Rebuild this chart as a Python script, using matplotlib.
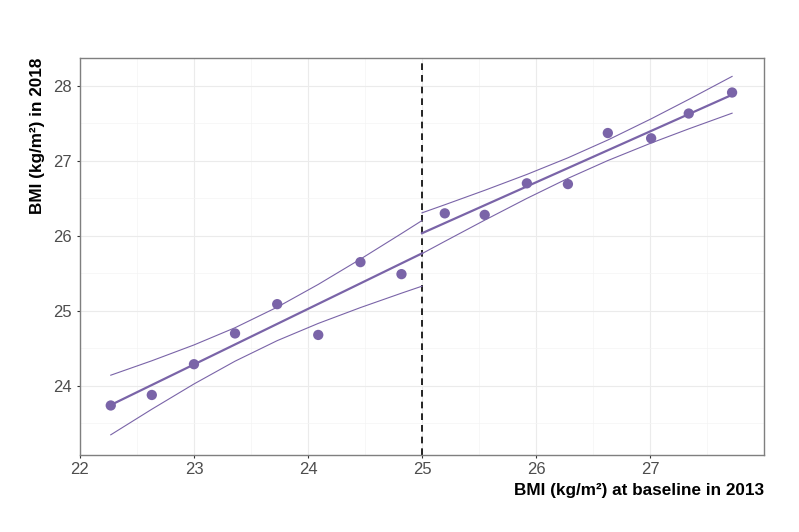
import numpy as np
import matplotlib
matplotlib.use("Agg")
import matplotlib.pyplot as plt
from matplotlib.ticker import MultipleLocator

plt.rcParams['font.family'] = ['Liberation Sans', 'DejaVu Sans']

# Binned data: BMI at baseline (2013) vs BMI in 2018
bmi_2013 = [22.27, 22.63, 23.00, 23.36, 23.73, 24.09, 24.46, 24.82,
            25.20, 25.55, 25.92, 26.28, 26.63, 27.01, 27.34, 27.72]
bmi_2018 = [23.74, 23.88, 24.29, 24.70, 25.09, 24.68, 25.65, 25.49,
            26.30, 26.28, 26.70, 26.69, 27.37, 27.30, 27.63, 27.91]
cutoff = 25.0
x_ticks = [22, 23, 24, 25, 26, 27]
y_ticks = [24, 25, 26, 27, 28]

color = '#7a64a8'

fig = plt.figure(figsize=(7.99, 5.32), dpi=100)
ax = fig.add_axes([0.1001, 0.1447, 0.8561, 0.7463])

x = np.array(bmi_2013)
y = np.array(bmi_2018)


def fit_segment(xs, ys, x_end=None):
    n = len(xs)
    X = np.column_stack([np.ones(n), xs])
    beta, *_ = np.linalg.lstsq(X, ys, rcond=None)
    resid = ys - X @ beta
    s2 = resid @ resid / (n - 2)
    cov = s2 * np.linalg.inv(X.T @ X)
    xg = np.array(sorted(list(xs) + ([x_end] if x_end is not None else [])))
    Xg = np.column_stack([np.ones(len(xg)), xg])
    pred = Xg @ beta
    se = np.sqrt(np.einsum('ij,jk,ik->i', Xg, cov, Xg))
    t = 2.447 if n == 8 else 1.96
    return xg, pred, pred - t * se, pred + t * se


for mask, xe in [(x < cutoff, cutoff), (x >= cutoff, cutoff)]:
    xg, pred, lo, hi = fit_segment(x[mask], y[mask], xe)
    ax.plot(xg, pred, color=color, lw=1.6, zorder=3)
    ax.plot(xg, lo, color=color, lw=0.8, zorder=3)
    ax.plot(xg, hi, color=color, lw=0.8, zorder=3)

ax.scatter(x, y, s=55, color=color, edgecolors='none', zorder=4)
ax.axvline(cutoff, color='black', lw=1.2, ls=(0, (4, 3)), zorder=2)

ax.set_xlim(22, 28)
ax.set_ylim(23.08, 28.37)
ax.set_xticks(x_ticks)
ax.set_yticks(y_ticks)
ax.xaxis.set_minor_locator(MultipleLocator(0.5))
ax.yaxis.set_minor_locator(MultipleLocator(0.5))
ax.grid(which='major', color='#ebebeb', lw=0.8, zorder=0)
ax.grid(which='minor', color='#f4f4f4', lw=0.5, zorder=0)
ax.set_axisbelow(True)
ax.tick_params(which='minor', length=0)
ax.tick_params(which='major', length=2.5, color='#333333', width=0.8,
               labelsize=12, labelcolor='#4d4d4d')
ax.tick_params(axis='y', pad=3.2)
ax.tick_params(axis='x', pad=2.6)
for sp in ax.spines.values():
    sp.set_color('#7f7f7f')
    sp.set_linewidth(1.0)

ax.set_xlabel('BMI (kg/m²) at baseline in 2013', fontsize=12.3, fontweight='bold',
              loc='right', labelpad=4)
ax.set_ylabel('BMI (kg/m²) in 2018', fontsize=12.3, fontweight='bold',
              loc='top', labelpad=6)

fig.savefig('out.png', dpi=100, facecolor='white')
